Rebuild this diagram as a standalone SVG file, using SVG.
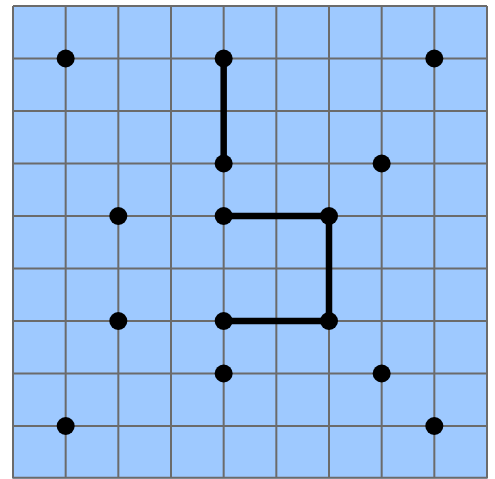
<svg xmlns="http://www.w3.org/2000/svg" width="495" height="479" viewBox="0 0 495 479">
<style>
.g{stroke:#6b6b6b;stroke-width:2;fill:none}
.c{stroke:#000;stroke-width:6.5;fill:none;stroke-linejoin:round}
.d{fill:#000}
</style>
<rect x="0" y="0" width="495" height="479" fill="#fff"/>
<g id="grid">
<rect x="13" y="6" width="474" height="472.5" fill="#9ec9ff"/>
<path class="g" d="M13,6V478.5M65.67,6V478.5M118.33,6V478.5M171,6V478.5M223.67,6V478.5M276.33,6V478.5M329,6V478.5M381.67,6V478.5M434.33,6V478.5M487,6V478.5M13,6H487M13,58.5H487M13,111H487M13,163.5H487M13,216H487M13,268.5H487M13,321H487M13,373.5H487M13,426H487M13,477.8H487"/>
</g>
<g id="connectors">
<path class="c" d="M223.67,58.5V163.5"/>
<path class="c" d="M223.67,216H329V321H223.67"/>
</g>
<g id="n1"><circle class="d" cx="65.67" cy="58.5" r="9"/></g>
<g id="n2"><circle class="d" cx="223.67" cy="58.5" r="9"/></g>
<g id="n3"><circle class="d" cx="434.33" cy="58.5" r="9"/></g>
<g id="n4"><circle class="d" cx="223.67" cy="163.5" r="9"/></g>
<g id="n5"><circle class="d" cx="381.67" cy="163.5" r="9"/></g>
<g id="n6"><circle class="d" cx="118.33" cy="216" r="9"/></g>
<g id="n7"><circle class="d" cx="223.67" cy="216" r="9"/></g>
<g id="n8"><circle class="d" cx="329" cy="216" r="9"/></g>
<g id="n9"><circle class="d" cx="118.33" cy="321" r="9"/></g>
<g id="n10"><circle class="d" cx="223.67" cy="321" r="9"/></g>
<g id="n11"><circle class="d" cx="329" cy="321" r="9"/></g>
<g id="n12"><circle class="d" cx="223.67" cy="373.5" r="9"/></g>
<g id="n13"><circle class="d" cx="381.67" cy="373.5" r="9"/></g>
<g id="n14"><circle class="d" cx="65.67" cy="426" r="9"/></g>
<g id="n15"><circle class="d" cx="434.33" cy="426" r="9"/></g>
</svg>
